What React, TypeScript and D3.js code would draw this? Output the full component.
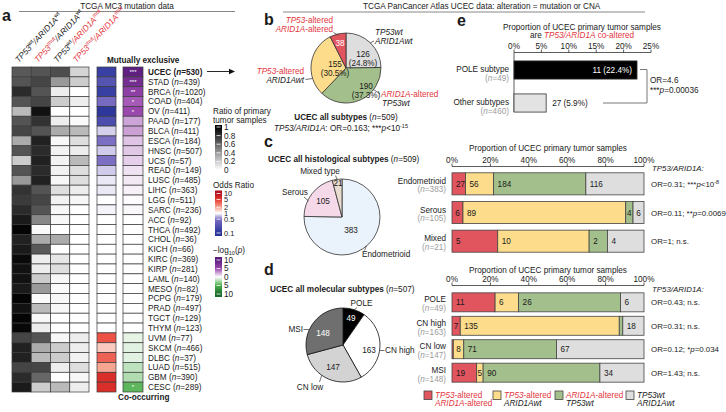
import React from "react";
import * as d3 from "d3";

const FONT = "'Liberation Sans', Arial, Helvetica, sans-serif";
const FS = 8.2;
const INK = "#1a1a1a";
const RED = "#e2363d";
const NGRAY = "#9c9c9c";

// ---- panel a: TCGA MC3 mutation data ----
const cancerTypes = ["UCEC", "STAD", "BRCA", "COAD", "OV", "PAAD", "BLCA", "ESCA", "HNSC", "UCS", "READ", "LUSC", "LIHC", "LGG", "SARC", "ACC", "THCA", "CHOL", "KICH", "KIRC", "KIRP", "LAML", "MESO", "PCPG", "PRAD", "TGCT", "THYM", "UVM", "SKCM", "DLBC", "LUAD", "GBM", "CESC"];
const sampleCounts = [530, 439, 1020, 404, 411, 177, 411, 184, 507, 57, 149, 485, 363, 511, 236, 92, 492, 36, 66, 369, 281, 140, 82, 179, 497, 129, 123, 77, 466, 37, 515, 390, 289];
const ratioWtWt = [0.65, 0.67, 0.83, 0.67, 0.27, 0.67, 0.73, 0.33, 0.67, 0.2, 0.67, 0.4, 0.8, 0.77, 0.83, 0.9, 0.98, 0.87, 0.9, 0.96, 0.93, 0.93, 0.9, 0.98, 0.93, 0.98, 0.97, 0.73, 0.87, 0.87, 0.73, 0.83, 0.9];
const ratioMutWt = [0.67, 0.73, 0.67, 0.73, 0.93, 0.8, 0.67, 0.87, 0.83, 0.87, 0.83, 0.87, 0.67, 0.73, 0.67, 0.47, 0.02, 0.33, 0.65, 0.07, 0.07, 0.2, 0.4, 0.02, 0.27, 0.03, 0.07, 0.67, 0.33, 0.27, 0.73, 0.6, 0.2];
const ratioWtMut = [0.7, 0.4, 0.07, 0.2, 0, 0.07, 0.33, 0.03, 0.05, 0.05, 0.05, 0.03, 0.13, 0.05, 0.03, 0.03, 0, 0.33, 0, 0.1, 0.13, 0.03, 0.02, 0.03, 0.03, 0, 0, 0.03, 0.2, 0.2, 0.07, 0, 0.27];
const ratioMutMut = [0.17, 0.2, 0, 0.07, 0, 0.02, 0.27, 0.13, 0.07, 0.27, 0.13, 0.13, 0.07, 0.03, 0, 0, 0, 0, 0, 0, 0, 0, 0, 0, 0, 0, 0, 0.07, 0.07, 0.05, 0.13, 0.03, 0.07];
const oddsRatios = [0.14, 0.24, 0.14, 0.45, 0.11, 0.2, 0.8, 0.5, 0.78, 0.5, 0.78, 0.9, 0.9, 1, 0.95, 1, 1, 1, 1, 1, 1, 1, 1, 1, 1, 1, 1, 4, 1.5, 3.5, 2, 6, 6];
// -log10(p): positive = mutually exclusive, negative = co-occurring
const negLogP = [9.5, 8, 6, 4.5, 5, 2.5, 2.6, 1.6, 1.5, 1.3, 0.8, 0.6, 0.4, 0.1, 0.2, 0, 0, 0, 0, 0, 0, 0, 0, 0, 0, 0, 0, -0.7, -0.8, -0.8, -1.8, -2.2, -4.5];
const pStars = ["***", "***", "**", "*", "*", "", "", "", "", "", "", "", "", "", "", "", "", "", "", "", "", "", "", "", "", "", "", "", "", "", "", "", "*"];

// ---- panel b: UCEC all subtypes ----
const pieBKeys = ["neither", "arid1a", "tp53", "co"];
const pieBCounts = [126, 190, 155, 38];

// ---- panel c: histological subtypes ----
const histTypes = ["Endometrioid", "Serous", "Mixed"];
const histPieNames = ["Endometrioid", "Serous", "Mixed type"];
const histN = [383, 105, 21];
const histCoAltered = [27, 6, 5];
const histTp53Only = [56, 89, 10];
const histArid1aOnly = [184, 4, 2];
const histNeither = [116, 6, 4];
const histOR = ["0.31", "0.11", "1"];
const histP = ["***p<10^-8", "**p=0.0069", "n.s."];

// ---- panel d: molecular subtypes ----
const molTypes = ["POLE", "CN high", "CN low", "MSI"];
const molN = [49, 163, 147, 148];
const molCoAltered = [11, 7, 1, 19];
const molTp53Only = [6, 135, 8, 5];
const molArid1aOnly = [26, 3, 71, 90];
const molNeither = [6, 18, 67, 34];
const molOR = ["0.43", "0.31", "0.12", "1.43"];
const molP = ["n.s.", "n.s.", "*p=0.034", "n.s."];

// ---- panel e: co-altered proportion ----
const eGroups = ["POLE subtype", "Other subtypes"];
const eN = [49, 460];
const eCoAltered = [11, 27];
const eTicks = [0, 0.05, 0.1, 0.15, 0.2, 0.25];

const stackKeys = ["co", "tp53", "arid1a", "neither"];
const stackFill: Record<string, string> = { co: "#e1555f", tp53: "#fddc8b", arid1a: "#a3bf8c", neither: "#dedede" };

type Seg = { t: string; i?: boolean; b?: boolean; c?: string; sup?: boolean; sub?: boolean };

function Rich(props: { x: number; y: number; segs: Seg[]; size?: number; anchor?: string; fill?: string; weight?: string; rotate?: number }) {
  const { x, y, segs, size = FS, anchor = "start", fill = INK, weight, rotate } = props;
  let shift = 0;
  const spans = segs.map((s, k) => {
    const target = s.sup ? -size * 0.4 : s.sub ? size * 0.3 : 0;
    const dy = target - shift;
    shift = target;
    return (
      <tspan key={k} dy={dy !== 0 ? dy : undefined} fontStyle={s.i ? "italic" : undefined}
        fontWeight={s.b ? "bold" : undefined} fill={s.c}
        fontSize={s.sup || s.sub ? size * 0.68 : undefined}>{s.t}</tspan>
    );
  });
  return (
    <text x={x} y={y} fontSize={size} textAnchor={anchor} fill={fill} fontWeight={weight}
      transform={rotate ? `rotate(${rotate},${x},${y})` : undefined}>{spans}</text>
  );
}

const nSegs = (n: number, c?: string): Seg[] => [{ t: "(", c }, { t: "n", i: true, c }, { t: `=${n})`, c }];

function statSegs(or: string, p: string): Seg[] {
  const segs: Seg[] = [{ t: `OR=${or}; ` }];
  const m = p.match(/^(\**)p(.*)$/);
  if (!m) return [...segs, { t: p }];
  segs.push({ t: m[1] }, { t: "p", i: true });
  const [main, sup] = m[2].split("^");
  segs.push({ t: main });
  if (sup) segs.push({ t: sup, sup: true });
  return segs;
}

const polar = (cx: number, cy: number, r: number, deg: number) =>
  [cx + r * Math.sin((deg * Math.PI) / 180), cy - r * Math.cos((deg * Math.PI) / 180)];

function Pie(props: { cx: number; cy: number; r: number; values: number[]; fills: string[]; stroke: string }) {
  const { cx, cy, r, values, fills, stroke } = props;
  const arcs = d3.pie<number>().sort(null).value((d) => d)(values);
  const arc = d3.arc<d3.PieArcDatum<number>>().innerRadius(0).outerRadius(r);
  return (
    <g transform={`translate(${cx},${cy})`}>
      {arcs.map((a, i) => (
        <path key={i} d={arc(a) || ""} fill={fills[i]} stroke={stroke} strokeWidth={0.8} />
      ))}
    </g>
  );
}

function Leader({ pts }: { pts: number[][] }) {
  return <path d={d3.line()(pts as [number, number][]) || ""} fill="none" stroke="#333" strokeWidth={0.7} />;
}

function TopAxis(props: { x: d3.ScaleLinear<number, number>; y: number; ticks: number[]; fmt: (v: number) => string }) {
  const { x, y, ticks, fmt } = props;
  const [x0, x1] = x.range();
  return (
    <g>
      <line x1={x0} x2={x1} y1={y} y2={y} stroke="#333" strokeWidth={0.8} />
      {ticks.map((t) => (
        <g key={t}>
          <line x1={x(t)} x2={x(t)} y1={y} y2={y - 3} stroke="#333" strokeWidth={0.8} />
          <text x={x(t)} y={y - 3.8} textAnchor="middle" fontSize={FS}>{fmt(t)}</text>
        </g>
      ))}
    </g>
  );
}

function StackedPanel(props: {
  names: string[]; ns: number[]; co: number[]; tp: number[]; ar: number[]; ne: number[];
  ors: string[]; ps: string[]; range: [number, number]; inner: number; outer: number;
  axisY: number; titleY: number; headY: number; nDy: number;
}) {
  const { names, ns, co, tp, ar, ne, ors, ps, range, inner, outer, axisY, titleY, headY, nDy } = props;
  const rows = names.map((name, i) => ({ name, co: co[i], tp53: tp[i], arid1a: ar[i], neither: ne[i] }));
  const series = d3.stack<any>().keys(stackKeys).offset(d3.stackOffsetExpand)(rows);
  const x = d3.scaleLinear().domain([0, 1]).range([452, 644]);
  const y = d3.scaleBand<string>().domain(names).range(range).paddingInner(inner).paddingOuter(outer);
  const bw = y.bandwidth();
  return (
    <g>
      <text x={548} y={titleY} textAnchor="middle" fontSize={FS}>Proportion of UCEC primary tumor samples</text>
      <TopAxis x={x} y={axisY} ticks={[0, 0.2, 0.4, 0.6, 0.8, 1]} fmt={d3.format(".0%")} />
      <Rich x={652} y={headY} size={7.9} segs={[{ t: "TP53/ARID1A:", i: true }]} />
      {series.map((s) =>
        s.map((d, i) => {
          const x0 = x(d[0]);
          const w = x(d[1]) - x0;
          const val = (d.data as any)[s.key] as number;
          const yy = y(names[i]) as number;
          return (
            <g key={s.key + i}>
              <rect x={x0} y={yy} width={w} height={bw} fill={stackFill[s.key]} stroke="#444" strokeWidth={0.8} />
              {w > 12 ? (
                <text x={x0 + 4} y={yy + bw / 2 + 3} fontSize={FS}>{val}</text>
              ) : w > 5 ? (
                <text x={x0 + w / 2} y={yy + bw / 2 + 3} fontSize={FS} textAnchor="middle">{val}</text>
              ) : null}
            </g>
          );
        })
      )}
      {names.map((name, i) => {
        const cy = (y(name) as number) + bw / 2;
        return (
          <g key={name}>
            <text x={446} y={cy} textAnchor="end" fontSize={FS}>{name}</text>
            <Rich x={446} y={cy + nDy} anchor="end" segs={nSegs(ns[i], NGRAY)} />
            <Rich x={651} y={cy + 3} size={7.9} segs={statSegs(ors[i], ps[i])} />
          </g>
        );
      })}
    </g>
  );
}

function LegendBar(props: { x: number; y0: number; y1: number; id: string; stops: [number, string][]; labels: [number, string][]; size?: number }) {
  const { x, y0, y1, id, stops, labels, size = FS } = props;
  const off = (v: number) => (v - y0) / (y1 - y0);
  return (
    <g>
      <defs>
        <linearGradient id={id} x1="0" y1="0" x2="0" y2="1">
          {stops.map(([y, c], k) => <stop key={k} offset={off(y)} stopColor={c} />)}
        </linearGradient>
      </defs>
      <rect x={x} y={y0} width={7} height={y1 - y0} fill={`url(#${id})`} />
      {labels.map(([y, t], k) => (
        <g key={k}>
          <line x1={x + 1.5} x2={x + 5.5} y1={y} y2={y} stroke="#fff" strokeWidth={0.8} />
          <text x={x + 9} y={y + size * 0.36} fontSize={size}>{t}</text>
        </g>
      ))}
    </g>
  );
}

export default function App() {
  // panel a
  const colX = d3.scaleBand<number>().domain([0, 1, 2, 3]).range([12, 89]);
  const rowY = d3.scaleBand<string>().domain(cancerTypes).range([67, 392]);
  const rh = rowY.bandwidth();
  const gray = d3.scaleLinear<string>().domain([0, 1]).range(["#ffffff", "#000000"]);
  const orColor = d3.scaleLog<string>().domain([0.1, 0.5, 1, 2, 5, 10])
    .range(["#28339a", "#7b6fc4", "#ffffff", "#f7a593", "#e8372d", "#b0131f"]).clamp(true);
  const pEx = d3.scaleLinear<string>().domain([0, 5, 10]).range(["#ffffff", "#9a48ae", "#5a1c7c"]).clamp(true);
  const pCo = d3.scaleLinear<string>().domain([0, 5, 10]).range(["#ffffff", "#4caf4a", "#1b6b2c"]).clamp(true);
  const ratios = [ratioWtWt, ratioMutWt, ratioWtMut, ratioMutMut];
  const headers: Seg[][] = [
    [{ t: "TP53", i: true }, { t: "wt", sup: true }, { t: "/ARID1A", i: true }, { t: "wt", sup: true }],
    [{ t: "TP53", i: true, c: RED }, { t: "mut", sup: true, c: RED }, { t: "/ARID1A", i: true }, { t: "wt", sup: true }],
    [{ t: "TP53", i: true }, { t: "wt", sup: true }, { t: "/ARID1A", i: true, c: RED }, { t: "mut", sup: true, c: RED }],
    [{ t: "TP53", i: true, c: RED }, { t: "mut", sup: true, c: RED }, { t: "/ARID1A", i: true, c: RED }, { t: "mut", sup: true, c: RED }],
  ];

  // legends
  const ratioY = d3.scaleLinear().domain([0, 1]).range([170, 127]);
  const orY = d3.scaleLog().domain([0.1, 10]).range([233, 193.5]);
  const pY = d3.scaleLinear().domain([-10, 0, 10]).range([294, 277, 260]);

  // panel b
  const total = d3.sum(pieBCounts);
  const pct = d3.format(".1%");
  const pieBFill = pieBKeys.map((k) => stackFill[k]);
  const pieBLabels: [number, number, string][] = [[17, -11, "#1a1a1a"], [20, 21, "#1a1a1a"], [-11, -1, "#1a1a1a"], [-6, -22, "#ffffff"]];

  // panel e
  const ex = d3.scaleLinear().domain([0, 0.25]).range([514, 651]);
  const ey = d3.scaleBand<string>().domain(eGroups).range([53.5, 119.5]).paddingInner(0.45).paddingOuter(0.225);
  const eFill = ["#000000", "#e3e3e3"];

  const legendItems: { fill: string; l1: Seg[]; l2: Seg[]; x: number }[] = [
    { fill: stackFill.co, x: 424, l1: [{ t: "TP53", i: true, c: RED }, { t: "-altered", c: RED }], l2: [{ t: "ARID1A", i: true, c: RED }, { t: "-altered", c: RED }] },
    { fill: stackFill.tp53, x: 493, l1: [{ t: "TP53", i: true, c: RED }, { t: "-altered", c: RED }], l2: [{ t: "ARID1Awt", i: true }] },
    { fill: stackFill.arid1a, x: 555, l1: [{ t: "ARID1A", i: true, c: RED }, { t: "-altered", c: RED }], l2: [{ t: "TP53wt", i: true }] },
    { fill: stackFill.neither, x: 626, l1: [{ t: "TP53wt", i: true }], l2: [{ t: "ARID1Awt", i: true }] },
  ];

  return (
    <svg width={726} height={412} style={{ position: "absolute", left: 0, top: 0, display: "block" }}
      fontFamily={FONT} fill={INK}>
      <rect width={726} height={412} fill="#ffffff" />

      {/* ===== panel a ===== */}
      <text x={2} y={21} fontSize={16} fontWeight="bold">a</text>
      <text x={127} y={9} textAnchor="middle" fontSize={FS}>TCGA MC3 mutation data</text>
      <line x1={19} x2={235} y1={11.5} y2={11.5} stroke="#888" strokeWidth={1} />
      {headers.map((segs, c) => (
        <Rich key={c} x={(colX(c) as number) + colX.bandwidth() / 2 - 3} y={63} segs={segs} size={8.4} rotate={-47} />
      ))}
      <text x={107} y={62.5} fontSize={FS} fontWeight="bold">Mutually exclusive</text>
      <text x={118} y={400} fontSize={FS} fontWeight="bold">Co-occurring</text>
      {cancerTypes.map((ct, r) => {
        const yy = rowY(ct) as number;
        const lp = negLogP[r];
        return (
          <g key={ct}>
            {ratios.map((arr, c) => (
              <rect key={c} x={colX(c)} y={yy} width={colX.bandwidth()} height={rh} fill={gray(arr[r])} stroke="#3a3a3a" strokeWidth={0.7} />
            ))}
            <rect x={97} y={yy} width={19} height={rh} fill={orColor(oddsRatios[r])} stroke="#3a3a3a" strokeWidth={0.7} />
            <rect x={123} y={yy} width={20} height={rh} fill={lp >= 0 ? pEx(lp) : pCo(-lp)} stroke="#3a3a3a" strokeWidth={0.7} />
            {pStars[r] ? <text x={133} y={yy + rh / 2 + 2.2} textAnchor="middle" fontSize={6} fill="#fff">{pStars[r]}</text> : null}
            <Rich x={148} y={yy + rh / 2 + 3} weight={r === 0 ? "bold" : undefined}
              segs={[{ t: `${ct} ` }, ...nSegs(sampleCounts[r])]} />
          </g>
        );
      })}
      <line x1={207} x2={229} y1={71.5} y2={71.5} stroke="#111" strokeWidth={0.9} />
      <path d="M229,68.8 L235,71.5 L229,74.2 Z" fill="#111" />

      <text x={213} y={113.5} fontSize={FS}>Ratio of primary</text>
      <text x={213} y={123} fontSize={FS}>tumor samples</text>
      <LegendBar x={215} y0={125} y1={172} id="gRatio"
        stops={[[ratioY(1), "#000"], [ratioY(0), "#fff"]]}
        labels={[1, 0.8, 0.6, 0.4, 0.2, 0].map((v) => [ratioY(v), String(v)] as [number, string])} />
      <text x={213} y={187.5} fontSize={FS}>Odds Ratio</text>
      <LegendBar x={215} y0={190.5} y1={236} id="gOr" size={7.4}
        stops={[10, 5, 2, 1, 0.5, 0.1].map((v) => [orY(v), orColor(v)] as [number, string])}
        labels={[10, 5, 2, 1, 0.5, 0.1].map((v) => [orY(v), String(v)] as [number, string])} />
      <Rich x={213} y={252.5} segs={[{ t: "\u2212log" }, { t: "10", sub: true }, { t: "(" }, { t: "p", i: true }, { t: ")" }]} />
      <LegendBar x={215} y0={257} y1={297} id="gP"
        stops={[[pY(10), pEx(10)], [pY(5), pEx(5)], [pY(0), "#fff"], [pY(-5), pCo(5)], [pY(-10), pCo(10)]]}
        labels={[[pY(10), "10"], [pY(5), "5"], [pY(0), "0"], [pY(-5), "5"], [pY(-10), "10"]]} />

      {/* ===== panel b ===== */}
      <text x={363} y={9} fontSize={FS}>TCGA PanCancer Atlas UCEC data: alteration = mutation or CNA</text>
      <line x1={283} x2={645} y1={12} y2={12} stroke="#888" strokeWidth={1} />
      <text x={264} y={25} fontSize={16} fontWeight="bold">b</text>
      <Pie cx={346} cy={68} r={35} values={pieBCounts} fills={pieBFill} stroke="#333" />
      {pieBCounts.map((v, i) => {
        const [dx, dy, col] = pieBLabels[i];
        return (
          <g key={i} fill={col}>
            <text x={346 + dx} y={68 + dy} textAnchor="middle" fontSize={FS}>{v}</text>
            {i < 3 ? <text x={346 + dx} y={68 + dy + 8.5} textAnchor="middle" fontSize={FS}>({pct(v / total)})</text> : null}
          </g>
        );
      })}
      <Rich x={333} y={23} anchor="end" segs={[{ t: "TP53", i: true, c: RED }, { t: "-altered", c: RED }]} />
      <Rich x={333} y={31.5} anchor="end" segs={[{ t: "ARID1A", i: true, c: RED }, { t: "-altered", c: RED }]} />
      <Leader pts={[[333.5, 32.5], [338.5, 35.5]]} />
      <Rich x={375} y={35} segs={[{ t: "TP53wt", i: true }]} />
      <Rich x={375} y={44} segs={[{ t: "ARID1Awt", i: true }]} />
      <Leader pts={[polar(346, 68, 35, 44), [374, 41]]} />
      <Rich x={304} y={74} anchor="end" segs={[{ t: "TP53", i: true, c: RED }, { t: "-altered", c: RED }]} />
      <Rich x={304} y={82.5} anchor="end" segs={[{ t: "ARID1Awt", i: true }]} />
      <Leader pts={[[305.5, 79.5], [312.5, 78.5]]} />
      <Rich x={381} y={97} segs={[{ t: "ARID1A", i: true, c: RED }, { t: "-altered", c: RED }]} />
      <Rich x={382} y={105.5} segs={[{ t: "TP53wt", i: true }]} />
      <Leader pts={[polar(346, 68, 35, 128), [380, 94]]} />
      <Rich x={346} y={120} anchor="middle" segs={[{ t: "UCEC all subtypes ", b: true }, ...nSegs(d3.sum(pieBCounts))]} />
      <Rich x={341} y={131} anchor="middle" segs={[{ t: "TP53/ARID1A", i: true }, { t: ": OR=0.163; ***" }, { t: "p", i: true }, { t: "<10" }, { t: "-15", sup: true }]} />

      {/* ===== panel c ===== */}
      <text x={264} y={147} fontSize={16} fontWeight="bold">c</text>
      <Rich x={268} y={162} segs={[{ t: "UCEC all histological subtypes ", b: true }, ...nSegs(d3.sum(histN))]} />
      <Pie cx={342} cy={217} r={38} values={histN} fills={["#eaf2fb", "#f6d9e8", "#e9ddd1"]} stroke="#333" />
      <text x={351} y={233} textAnchor="middle" fontSize={FS}>{histN[0]}</text>
      <text x={323} y={204} textAnchor="middle" fontSize={FS}>{histN[1]}</text>
      <text x={338} y={185.5} textAnchor="middle" fontSize={FS}>{histN[2]}</text>
      <text x={320} y={174} textAnchor="middle" fontSize={FS}>{histPieNames[2]}</text>
      <Leader pts={[[335.5, 175.5], [337, 179.5]]} />
      <text x={295} y={195} textAnchor="middle" fontSize={FS}>{histPieNames[1]}</text>
      <Leader pts={[[304, 197], [308.5, 201]]} />
      <text x={362} y={257} fontSize={FS}>{histPieNames[0]}</text>
      <Leader pts={[polar(342, 217, 38, 140), [364.5, 250.5]]} />
      <StackedPanel names={histTypes} ns={histN} co={histCoAltered} tp={histTp53Only} ar={histArid1aOnly} ne={histNeither}
        ors={histOR} ps={histP} range={[169.5, 255.5]} inner={0.23} outer={0.115}
        axisY={166.5} titleY={150.5} headY={170.5} nDy={8.5} />

      {/* ===== panel d ===== */}
      <text x={264} y={275} fontSize={16} fontWeight="bold">d</text>
      <Rich x={270} y={292} segs={[{ t: "UCEC all molecular subtypes ", b: true }, ...nSegs(d3.sum(molN))]} />
      <Pie cx={343} cy={345} r={37} values={molN} fills={["#000000", "#ffffff", "#d3d3d3", "#6f6f6f"]} stroke="#111" />
      <text x={351} y={321} textAnchor="middle" fontSize={FS} fill="#fff">{molN[0]}</text>
      <text x={369} y={353} textAnchor="middle" fontSize={FS}>{molN[1]}</text>
      <text x={333} y={370} textAnchor="middle" fontSize={FS}>{molN[2]}</text>
      <text x={323} y={336} textAnchor="middle" fontSize={FS} fill="#fff">{molN[3]}</text>
      <text x={361.5} y={306} textAnchor="middle" fontSize={FS}>{molTypes[0]}</text>
      <Leader pts={[[357, 307.5], polar(343, 345, 37, 18)]} />
      <text x={385} y={353} fontSize={FS}>{molTypes[1]}</text>
      <Leader pts={[[379.8, 350.5], [384.5, 350.5]]} />
      <text x={310} y={390} textAnchor="middle" fontSize={FS}>{molTypes[2]}</text>
      <Leader pts={[[319.5, 382], polar(343, 345, 37, 215)]} />
      <text x={303} y={332} textAnchor="end" fontSize={FS}>{molTypes[3]}</text>
      <Leader pts={[[303.5, 329.5], [309, 329.5]]} />
      <StackedPanel names={molTypes} ns={molN} co={molCoAltered} tp={molTp53Only} ar={molArid1aOnly} ne={molNeither}
        ors={molOR} ps={molP} range={[290.5, 384.5]} inner={0.19} outer={0.1}
        axisY={285.5} titleY={272.5} headY={291.5} nDy={9} />

      {/* bottom legend */}
      {legendItems.map((it, k) => (
        <g key={k}>
          <rect x={it.x} y={391} width={8} height={8.5} fill={it.fill} stroke="#444" strokeWidth={0.8} />
          <Rich x={it.x + 11} y={397.5} segs={it.l1} />
          <Rich x={it.x + 11} y={406} segs={it.l2} />
        </g>
      ))}

      {/* ===== panel e ===== */}
      <text x={457} y={26} fontSize={16} fontWeight="bold">e</text>
      <text x={582} y={30} textAnchor="middle" fontSize={FS}>Proportion of UCEC primary tumor samples</text>
      <Rich x={582} y={37.5} anchor="middle" segs={[{ t: "are " }, { t: "TP53/ARID1A", i: true, c: RED }, { t: " co-altered", c: RED }]} />
      <TopAxis x={ex} y={52.5} ticks={eTicks} fmt={d3.format(".0%")} />
      <line x1={514} x2={514} y1={52.5} y2={112} stroke="#333" strokeWidth={0.8} />
      {eGroups.map((g, i) => {
        const yy = ey(g) as number;
        const frac = eCoAltered[i] / eN[i];
        const lab = `${eCoAltered[i]} (${pct(frac)})`;
        const bh = ey.bandwidth();
        return (
          <g key={g}>
            <rect x={ex(0)} y={yy} width={ex(frac) - ex(0)} height={bh} fill={eFill[i]} stroke="#333" strokeWidth={0.8} />
            {i === 0 ? (
              <text x={ex(frac) - 5} y={yy + bh / 2 + 3} textAnchor="end" fontSize={FS} fill="#fff">{lab}</text>
            ) : (
              <text x={ex(frac) + 6} y={yy + bh / 2 + 3} fontSize={FS}>{lab}</text>
            )}
            <text x={509} y={yy + bh / 2 + 2} textAnchor="end" fontSize={FS}>{g}</text>
            <Rich x={509} y={yy + bh / 2 + 10.5} anchor="end" segs={nSegs(eN[i], NGRAY)} />
          </g>
        );
      })}
      <path d="M640,69.5 H647 V103 H603" fill="none" stroke="#777" strokeWidth={1} />
      <text x={650} y={83} fontSize={FS}>OR=4.6</text>
      <Rich x={650} y={93} segs={[{ t: "***" }, { t: "p", i: true }, { t: "=0.00036" }]} />
    </svg>
  );
}
